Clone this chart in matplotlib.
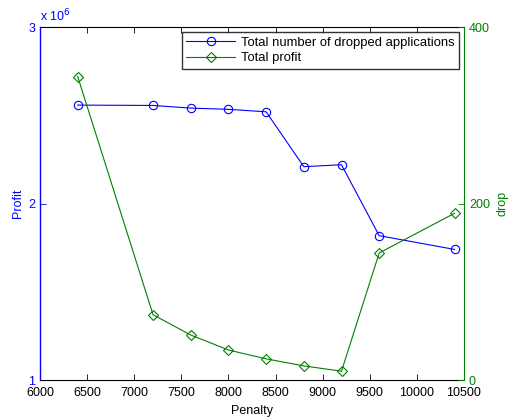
import matplotlib
matplotlib.use("Agg")
import matplotlib.pyplot as plt

# données
penalty = [6400, 7200, 7600, 8000, 8400, 8800, 9200, 9600, 10400]
profit = [2.558e6, 2.556e6, 2.541e6, 2.534e6, 2.520e6, 2.209e6, 2.220e6, 1.818e6, 1.740e6]
drop = [344, 74, 51, 34, 24, 16, 10, 144, 189]

x_ticks = [6000, 6500, 7000, 7500, 8000, 8500, 9000, 9500, 10000, 10500]
left_ticks = [1e6, 2e6, 3e6]
right_ticks = [0, 200, 400]

BLUE = "#0000ff"
GREEN = "#008000"
FS = 9

plt.rcParams["font.family"] = ["Liberation Sans", "DejaVu Sans"]

fig = plt.figure(figsize=(5.1, 4.17), dpi=100)
ax = fig.add_axes([0.0784, 0.0887, 0.8314, 0.8463])
ax2 = ax.twinx()

l1, = ax.plot(penalty, profit, color=BLUE, lw=0.8, marker="o", ms=6,
              mfc="none", mec=BLUE, mew=0.8,
              label="Total number of dropped applications")
l2, = ax2.plot(penalty, drop, color=GREEN, lw=0.8, marker="D", ms=5,
               mfc="none", mec=GREEN, mew=0.8, label="Total profit")

ax.set_xlim(6000, 10500)
ax.set_ylim(1e6, 3e6)
ax2.set_ylim(0, 400)
ax.set_xticks(x_ticks)
ax.set_yticks(left_ticks)
ax.set_yticklabels(["1", "2", "3"])
ax2.set_yticks(right_ticks)

ax.tick_params(axis="x", direction="in", top=True, length=4, width=0.6,
               labelsize=FS, colors="black", pad=5)
ax.tick_params(axis="y", direction="in", length=4, width=0.6,
               labelsize=FS, colors=BLUE)
ax2.tick_params(axis="y", direction="in", length=4, width=0.6,
                labelsize=FS, colors=GREEN)

for side in ("top", "bottom"):
    ax.spines[side].set_color("black")
ax.spines["left"].set_color(BLUE)
ax.spines["left"].set_linewidth(1.0)
ax.spines["right"].set_visible(False)
ax2.spines["right"].set_color(GREEN)
ax2.spines["left"].set_visible(False)
ax2.spines["top"].set_visible(False)
ax2.spines["bottom"].set_visible(False)

ax.set_xlabel("Penalty", fontsize=FS, labelpad=4)
ax.set_ylabel("Profit", fontsize=FS, color=BLUE, labelpad=3)
ax2.set_ylabel("drop", fontsize=FS, color=GREEN, labelpad=5)

ax.text(0.0, 1.008, r"x 10$^{6}$", transform=ax.transAxes, fontsize=FS,
        color=BLUE, ha="left", va="bottom")

leg = ax2.legend([l1, l2], [l1.get_label(), l2.get_label()],
                 loc="upper right", fontsize=9.4, frameon=True, fancybox=False,
                 borderpad=0.35, labelspacing=0.25, handlelength=3.7,
                 handletextpad=0.45, borderaxespad=0.4)
leg.get_frame().set_edgecolor("black")
leg.get_frame().set_linewidth(1.0)

fig.savefig("out.png", dpi=100)
